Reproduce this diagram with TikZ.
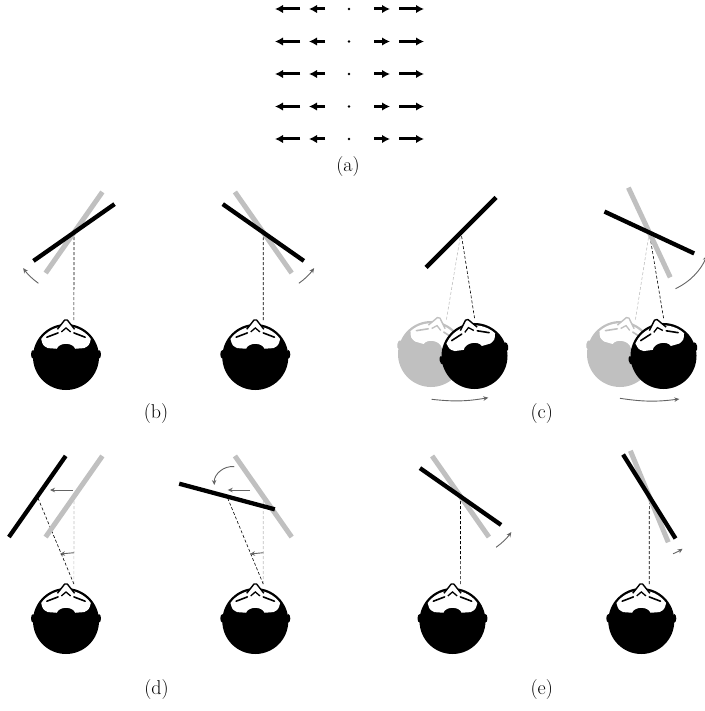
\documentclass[tikz,border=0pt]{standalone}
\usepackage{tikz}
\usetikzlibrary{arrows.meta,calc}

\definecolor{ghost}{RGB}{192,192,192}
\definecolor{motion}{RGB}{100,100,100}

\tikzset{
  mirror/.style={line width=4.3pt,black},
  oldmirror/.style={line width=5pt,ghost},
  gaze/.style={densely dashed,line width=0.6pt,black},
  oldgaze/.style={densely dashed,line width=0.6pt,ghost},
  move/.style={-{Stealth[length=5pt,width=4.5pt]},line width=0.9pt,motion},
  field/.style={-{Latex[length=8pt,width=8.5pt]},line width=3pt},
  tag/.style={font=\fontsize{20}{24}\selectfont},
  % top view of a head, nose up, radius 33
  pics/head/.style={code={
    \begin{scope}[scale=33]
      \fill[#1] (0,0) circle (1);
      \fill[#1] (-1,0.08) ellipse (0.06 and 0.13);
      \fill[#1] (1,0.08) ellipse (0.06 and 0.13);
      \fill[white] (36:0.93) arc[start angle=36,end angle=144,radius=0.93]
        .. controls (-0.7,0.35) .. (-0.55,0.27) -- (-0.28,0.25)
        .. controls (-0.2,0.45) and (0.2,0.45) .. (0.28,0.25) -- (0.55,0.27)
        .. controls (0.7,0.35) .. (36:0.93) -- cycle;
      \filldraw[fill=white,draw=#1,line width=1.4pt,line join=round]
        (-0.26,0.84) -- (-0.04,1.12) -- (0.04,1.12) -- (0.26,0.84);
      \draw[#1,line width=1.3pt] (-0.14,0.76) -- (0,0.88) -- (0.14,0.76);
      \draw[#1,line width=1.6pt,line cap=round] (-0.58,0.6) -- (-0.24,0.73);
      \draw[#1,line width=1.6pt,line cap=round] (0.58,0.6) -- (0.24,0.73);
      \coordinate (-eye) at (0.24,1.12);
    \end{scope}
  }},
  pics/head/.default=black
}

\begin{document}
\begin{tikzpicture}[x=1pt,y=1pt]
\useasboundingbox (0,0) rectangle (704,-711);

% (a) flow field
\foreach \y in {9,41.5,74,106.5,139} {
  \draw[field] (300,-\y) -- (275,-\y);
  \draw[field] (325,-\y) -- (309,-\y);
  \fill (349,-\y) circle (1.4);
  \draw[field] (374,-\y) -- (390,-\y);
  \draw[field] (399,-\y) -- (424,-\y);
}
\node[tag] (la) at (348,-167) {(a)};

% (b) mirror turns, head still
\coordinate (mb1) at (74,-232.5);
\coordinate (mb2) at (263.3,-232.5);
\pic (hb1) at (66,-357) {head};
\pic (hb2) at (255.3,-357) {head};
\draw[gaze] (hb1-eye) -- (mb1);
\draw[gaze] (hb2-eye) -- (mb2);
\draw[oldmirror,shift={(mb1)},rotate=55] (-49.5,0) -- (49.5,0);
\draw[mirror,shift={(mb1)},rotate=35] (-49.5,0) -- (49.5,0);
\draw[oldmirror,shift={(mb2)},rotate=-55] (-49.5,0) -- (49.5,0);
\draw[mirror,shift={(mb2)},rotate=-35] (-49.5,0) -- (49.5,0);
\draw[move,shift={(mb1)}] (235:62) arc[start angle=235,end angle=215,radius=62];
\draw[move,shift={(mb2)}] (-55:62) arc[start angle=-55,end angle=-35,radius=62];
\node[tag] (lb) at (156,-414) {(b)};

% (c) head moves, mirror follows
\coordinate (mc1) at (461,-232.5);
\coordinate (mc2) at (649.3,-232.5);
\pic[rotate=-12] (gc1) at (431,-354) {head=ghost};
\pic[rotate=12] (hc1) at (474.5,-356) {head};
\pic[rotate=-12] (gc2) at (620,-354) {head=ghost};
\pic[rotate=12] (hc2) at (663.5,-356) {head};
\draw[oldgaze] (gc1-eye) -- (mc1);
\draw[gaze] (hc1-eye) -- (mc1);
\draw[oldgaze] (gc2-eye) -- (mc2);
\draw[gaze] (hc2-eye) -- (mc2);
\draw[mirror,shift={(mc1)},rotate=45] (-49.5,0) -- (49.5,0);
\draw[oldmirror,shift={(mc2)},rotate=-65] (-49.5,0) -- (49.5,0);
\draw[mirror,shift={(mc2)},rotate=-25] (-49.5,0) -- (49.5,0);
\draw[move,shift={(mc2)}] (-65:62) arc[start angle=-65,end angle=-22,radius=62];
\draw[move] (431.7,-399.3) to[bend right=8] (488.3,-397.7);
\draw[move] (620,-398.3) to[bend right=8] (679.3,-399);
\node[tag] (lc) at (541.7,-414) {(c)};

% (d) mirror slides sideways
\coordinate (md1g) at (74,-496.5);
\coordinate (md1) at (37.3,-496.5);
\coordinate (md2g) at (263.3,-496.5);
\coordinate (md2) at (227,-496.5);
\pic (hd1) at (66,-621) {head};
\pic (hd2) at (255.3,-621) {head};
\draw[oldgaze] (hd1-eye) -- (md1g);
\draw[gaze] (hd1-eye) -- (md1);
\draw[oldgaze] (hd2-eye) -- (md2g);
\draw[gaze] (hd2-eye) -- (md2);
\draw[oldmirror,shift={(md1g)},rotate=55] (-49.5,0) -- (49.5,0);
\draw[mirror,shift={(md1)},rotate=55] (-49.5,0) -- (49.5,0);
\draw[oldmirror,shift={(md2g)},rotate=-55] (-49.5,0) -- (49.5,0);
\draw[mirror,shift={(md2)},rotate=-15] (-49.5,0) -- (49.5,0);
\draw[move] ($(md1g)+(-1.3,6.5)$) -- ++(-22.7,0);
\draw[move] ($(md2g)+(-13.3,6.5)$) -- ++(-22.3,0);
\draw[move] (74,-552.7) -- (60,-554);
\draw[move] (263.3,-552.7) -- (250,-554);
\draw[move] (234.3,-466.7) to[bend right=50] (214.3,-485);
\node[tag] (ld) at (156.5,-690) {(d)};

% (e) small turns
\coordinate (me1) at (460.5,-496.5);
\coordinate (me2) at (649.3,-496.5);
\pic (he1) at (452.5,-621) {head};
\pic (he2) at (641.3,-621) {head};
\draw[gaze] (he1-eye) -- (me1);
\draw[gaze] (he2-eye) -- (me2);
\draw[oldmirror,shift={(me1)},rotate=-55] (-49.5,0) -- (49.5,0);
\draw[mirror,shift={(me1)},rotate=-35] (-49.5,0) -- (49.5,0);
\draw[oldmirror,shift={(me2)},rotate=-67.5] (-49.5,0) -- (49.5,0);
\draw[mirror,shift={(me2)},rotate=-58] (-49.5,0) -- (49.5,0);
\draw[move,shift={(me1)}] (-55:62) arc[start angle=-55,end angle=-35,radius=62];
\draw[move,shift={(me2)}] (-67.5:62) arc[start angle=-67.5,end angle=-57.5,radius=62];
\node[tag] (le) at (541.7,-690) {(e)};
\end{tikzpicture}
\end{document}
